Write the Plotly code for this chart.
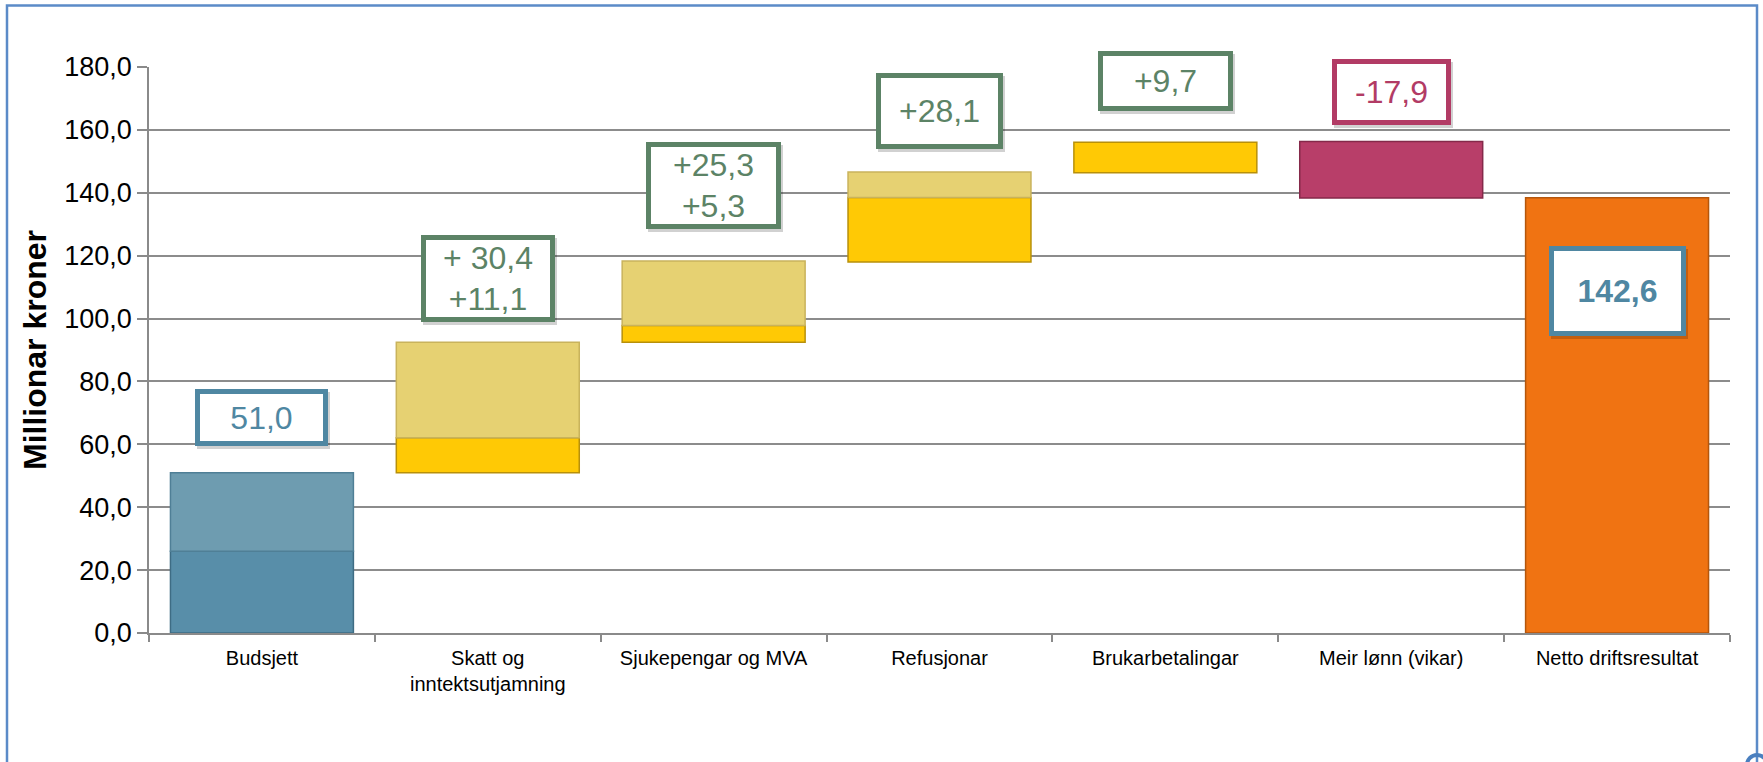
import plotly.graph_objects as go

categories = ["Budsjett", "Skatt og<br>inntektsutjamning", "Sjukepengar og MVA", "Refusjonar",
              "Brukarbetalingar", "Meir lønn (vikar)", "Netto driftsresultat"]
lower_base = [0.0, 51.0, 92.5, 118.0, 146.4, 138.3, 0.0]
lower_len = [26.0, 11.1, 5.3, 20.5, 9.7, 18.0, 138.4]
upper_len = [25.0, 30.4, 20.5, 8.1, None, None, None]
label_text = ["51,0", "+ 30,4<br>+11,1", "+25,3<br>+5,3", "+28,1", "+9,7", "-17,9", "<b>142,6</b>"]
label_y = [68.6, 112.6, 142.2, 166.0, 175.4, 172.0, 108.7]
y_ticks = [0, 20, 40, 60, 80, 100, 120, 140, 160, 180]

lower_colors = ["#588ea9", "#ffc905", "#ffc905", "#ffc905", "#ffc905", "#b83e69", "#f07312"]
lower_lines = ["#3e6c84", "#b8900a", "#b8900a", "#b8900a", "#b8900a", "#85294a", "#b4560c"]
upper_colors = ["#6e9cb0", "#e6d172", "#e6d172", "#e6d172", "#e6d172", "#e6d172", "#e6d172"]
upper_lines = ["#4f7f96", "#c9b35c", "#c9b35c", "#c9b35c", "#c9b35c", "#c9b35c", "#c9b35c"]
label_colors = ["#4f87a2", "#5c8366", "#5c8366", "#5c8366", "#5c8366", "#b23b65", "#4f87a2"]
label_box_w = [133, 134, 135, 127, 135, 119, 137]
label_box_h = [57, 87, 87, 76, 60, 66, 90]

upper_base = [b + l for b, l in zip(lower_base, lower_len)]

fig = go.Figure()
fig.add_trace(go.Bar(
    x=categories, y=lower_len, base=lower_base,
    marker=dict(color=lower_colors, line=dict(color=lower_lines, width=1.5)),
    width=0.81, hoverinfo="skip", showlegend=False))
fig.add_trace(go.Bar(
    x=categories, y=upper_len, base=upper_base,
    marker=dict(color=upper_colors, line=dict(color=upper_lines, width=1.5)),
    width=0.81, hoverinfo="skip", showlegend=False))

bw = 5
for cat, txt, yv, col, w, h in zip(categories, label_text, label_y, label_colors, label_box_w, label_box_h):
    # soft shadow
    fig.add_annotation(
        x=cat, y=yv, xref="x", yref="y", text="", showarrow=False,
        bgcolor="rgba(0,0,0,0.18)", borderwidth=0, borderpad=0,
        width=w, height=h, xshift=2, yshift=-3)
    fig.add_annotation(
        x=cat, y=yv, xref="x", yref="y", text=txt, showarrow=False,
        font=dict(family="Liberation Sans, Arial", size=32, color=col),
        bgcolor="white", bordercolor=col, borderwidth=bw, borderpad=0,
        width=w - 2 * bw, height=h - 2 * bw, align="center", valign="middle")

# outer frame
L, R = 149, 1730
T, B = 66.5, 633
def px_x(p):
    return (p - L) / (R - L)
def px_y(p):
    return (B - p) / (B - T)

fig.add_shape(type="rect", xref="paper", yref="paper",
              x0=px_x(7), x1=px_x(1757), y0=px_y(800), y1=px_y(5),
              line=dict(color="#5b8bc8", width=2.5), fillcolor="rgba(0,0,0,0)", layer="below")
fig.add_shape(type="circle", xref="paper", yref="paper",
              x0=px_x(1747), x1=px_x(1767), y0=px_y(775), y1=px_y(755),
              line=dict(color="#4a7fbf", width=4), fillcolor="rgba(0,0,0,0)")

fig.update_layout(
    width=1763, height=762,
    margin=dict(l=L, r=1763 - R, t=T, b=762 - B, autoexpand=False),
    paper_bgcolor="white", plot_bgcolor="white",
    barmode="overlay", bargap=0.19,
    separators=", ",
    font=dict(family="Liberation Sans, Arial", color="black"),
    xaxis=dict(
        type="category", tickson="boundaries", ticks="outside", ticklen=7, tickcolor="#8a8a8a", tickwidth=1.5,
        showline=True, linecolor="#8a8a8a", linewidth=2, showgrid=False, ticklabelstandoff=6,
        tickfont=dict(size=20, color="black"), range=[-0.5, 6.5]),
    yaxis=dict(
        range=[0, 180], tickvals=y_ticks, tickformat=".1f",
        ticks="outside", ticklen=10, tickcolor="#8a8a8a", tickwidth=1.5,
        showline=True, linecolor="#8a8a8a", linewidth=1.5,
        showgrid=True, gridcolor="#8c8c8c", gridwidth=1.5, zeroline=False,
        tickfont=dict(size=27, color="black"),
        title=dict(text="<b>Millionar kroner</b>", font=dict(size=32, color="black"), standoff=8)),
)

fig.write_html("out.html", config={"displayModeBar": False},
               post_script="document.body.style.margin='0';document.body.style.overflow='hidden';")
